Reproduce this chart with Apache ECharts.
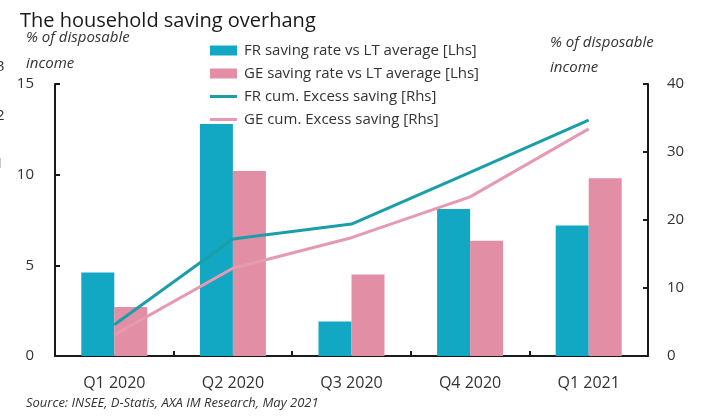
<!DOCTYPE html>
<html>
<head>
<meta charset="utf-8">
<script src="https://cdn.jsdelivr.net/npm/echarts@6/dist/echarts.min.js"></script>
<style>
  html, body { margin: 0; padding: 0; background: #fff; }
  #chart { width: 701px; height: 416px; }
</style>
</head>
<body>
<div id="chart"></div>
<script>
// Quarters on the category axis
var quarters = ['Q1 2020', 'Q2 2020', 'Q3 2020', 'Q4 2020', 'Q1 2021'];

// Saving rate vs long-term average, % of disposable income (left axis)
var frSavingRate = [4.6, 12.8, 1.9, 8.1, 7.2];
var geSavingRate = [2.7, 10.2, 4.5, 6.35, 9.8];

// Cumulative excess saving, % of disposable income (right axis)
var frCumExcess = [4.6, 17.2, 19.4, 27.0, 34.7];
var geCumExcess = [3.1, 12.9, 17.4, 23.4, 33.4];

var seriesNames = [
  'FR saving rate vs LT average [Lhs]',
  'GE saving rate vs LT average [Lhs]',
  'FR cum. Excess saving [Rhs]',
  'GE cum. Excess saving [Rhs]'
];

var FONT = 'Open Sans, Lato, sans-serif';
var TEXT = '#333';
var AXIS = '#1a1a1a';
var LINE_ICON = 'path://M0,0 L27,0 L27,3 L0,3 Z';

var chart = echarts.init(document.getElementById('chart'), null, { renderer: 'canvas' });

chart.setOption({
  animation: false,
  backgroundColor: '#fff',
  textStyle: { fontFamily: FONT },
  title: {
    text: 'The household saving overhang',
    left: 15,
    top: 6,
    textStyle: { fontFamily: FONT, fontSize: 20, fontWeight: 'normal', color: '#1a1a1a' }
  },
  legend: {
    orient: 'vertical',
    left: 205,
    top: 38,
    itemWidth: 27,
    itemHeight: 10,
    itemGap: 8,
    symbolKeepAspect: true,
    textStyle: { fontFamily: FONT, fontSize: 15, color: TEXT, padding: [0, 0, 0, 2] },
    data: [
      { name: seriesNames[0], icon: 'rect' },
      { name: seriesNames[1], icon: 'rect' },
      { name: seriesNames[2], icon: LINE_ICON },
      { name: seriesNames[3], icon: LINE_ICON }
    ]
  },
  grid: { left: 55, right: 53, top: 84, bottom: 60, containLabel: false },
  xAxis: {
    type: 'category',
    data: quarters,
    boundaryGap: true,
    axisLine: { lineStyle: { color: AXIS, width: 2 } },
    axisTick: { show: true, inside: true, length: 5, lineStyle: { color: AXIS, width: 2 } },
    axisLabel: { fontFamily: FONT, fontSize: 16, color: TEXT, margin: 19 }
  },
  yAxis: [
    {
      type: 'value',
      min: 0,
      max: 15,
      interval: 5,
      position: 'left',
      axisLine: { show: true, lineStyle: { color: AXIS, width: 2 } },
      axisTick: { show: true, inside: true, length: 5, lineStyle: { color: AXIS, width: 2 } },
      axisLabel: { fontFamily: FONT, fontSize: 15, color: TEXT, margin: 21 },
      splitLine: { show: false }
    },
    {
      type: 'value',
      min: 0,
      max: 40,
      interval: 10,
      position: 'right',
      axisLine: { show: true, lineStyle: { color: AXIS, width: 2 } },
      axisTick: { show: true, inside: true, length: 5, lineStyle: { color: AXIS, width: 2 } },
      axisLabel: { fontFamily: FONT, fontSize: 15, color: TEXT, margin: 19 },
      splitLine: { show: false }
    }
  ],
  graphic: [
    {
      type: 'text', left: 26, top: 30,
      style: { text: '% of disposable', fontFamily: FONT, fontStyle: 'italic', fontSize: 15, fill: TEXT }
    },
    {
      type: 'text', left: 26, top: 56,
      style: { text: 'income', fontFamily: FONT, fontStyle: 'italic', fontSize: 15, fill: TEXT }
    },
    {
      type: 'text', left: 550, top: 35,
      style: { text: '% of disposable', fontFamily: FONT, fontStyle: 'italic', fontSize: 15, fill: TEXT }
    },
    {
      type: 'text', left: 550, top: 60,
      style: { text: 'income', fontFamily: FONT, fontStyle: 'italic', fontSize: 15, fill: TEXT }
    },
    // edge of a neighbouring scale, cut off at the left border
    {
      type: 'text', left: -4, top: 59,
      style: { text: '3', fontFamily: FONT, fontSize: 15, fill: TEXT }
    },
    {
      type: 'text', left: -4, top: 108,
      style: { text: '2', fontFamily: FONT, fontSize: 15, fill: TEXT }
    },
    {
      type: 'text', left: -5, top: 156,
      style: { text: '1', fontFamily: FONT, fontSize: 15, fill: TEXT }
    },
    {
      type: 'text', left: 26, top: 397,
      style: { text: 'Source: INSEE, D-Statis, AXA IM Research, May 2021', fontFamily: FONT, fontStyle: 'italic', fontSize: 13, fill: TEXT }
    }
  ],
  series: [
    {
      name: seriesNames[0],
      type: 'bar',
      yAxisIndex: 0,
      data: frSavingRate,
      barWidth: 33,
      barGap: '0%',
      itemStyle: { color: '#12A8C3' }
    },
    {
      name: seriesNames[1],
      type: 'bar',
      yAxisIndex: 0,
      data: geSavingRate,
      barWidth: 33,
      barGap: '0%',
      itemStyle: { color: '#E28EA4' }
    },
    {
      name: seriesNames[2],
      type: 'line',
      yAxisIndex: 1,
      data: frCumExcess,
      symbol: 'none',
      lineStyle: { color: '#1A9FA8', width: 3 },
      itemStyle: { color: '#1A9FA8' }
    },
    {
      name: seriesNames[3],
      type: 'line',
      yAxisIndex: 1,
      data: geCumExcess,
      symbol: 'none',
      lineStyle: { color: '#E69AB1', width: 3 },
      itemStyle: { color: '#E69AB1' }
    }
  ]
});
</script>
</body>
</html>
